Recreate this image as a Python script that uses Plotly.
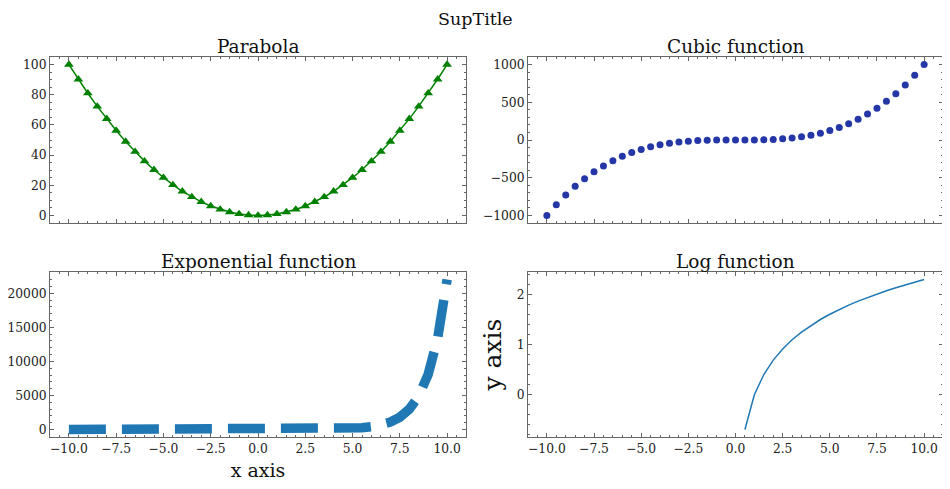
import plotly.graph_objects as go

x_values = [-10, -9.5, -9, -8.5, -8, -7.5, -7, -6.5, -6, -5.5, -5, -4.5, -4, -3.5, -3, -2.5, -2, -1.5, -1, -0.5,
            0, 0.5, 1, 1.5, 2, 2.5, 3, 3.5, 4, 4.5, 5, 5.5, 6, 6.5, 7, 7.5, 8, 8.5, 9, 9.5, 10]

parabola = [100, 90.25, 81, 72.25, 64, 56.25, 49, 42.25, 36, 30.25, 25, 20.25, 16, 12.25, 9, 6.25, 4, 2.25, 1, 0.25,
            0, 0.25, 1, 2.25, 4, 6.25, 9, 12.25, 16, 20.25, 25, 30.25, 36, 42.25, 49, 56.25, 64, 72.25, 81, 90.25, 100]

cubic = [-1000, -857.4, -729, -614.1, -512, -421.9, -343, -274.6, -216, -166.4, -125, -91.1, -64, -42.9, -27, -15.6,
         -8, -3.4, -1, -0.1, 0, 0.1, 1, 3.4, 8, 15.6, 27, 42.9, 64, 91.1, 125, 166.4, 216, 274.6, 343, 421.9, 512,
         614.1, 729, 857.4, 1000]

exponential = [0.00005, 0.00007, 0.00012, 0.0002, 0.00034, 0.00055, 0.00091, 0.0015, 0.0025, 0.0041, 0.0067,
               0.0111, 0.0183, 0.0302, 0.0498, 0.0821, 0.1353, 0.2231, 0.3679, 0.6065, 1, 1.65, 2.72, 4.48, 7.39,
               12.18, 20.09, 33.12, 54.6, 90.02, 148.41, 244.69, 403.43, 665.14, 1096.63, 1808.04, 2980.96,
               4914.77, 8103.08, 13359.73, 22026.47]

logvals = [None] * 21 + [-0.693, 0, 0.405, 0.693, 0.916, 1.099, 1.253, 1.386, 1.504, 1.609, 1.705, 1.792, 1.872,
                         1.946, 2.015, 2.079, 2.140, 2.197, 2.251, 2.303]

titles = ["Parabola", "Cubic function", "Exponential function", "Log function"]
xtick_vals = [-10, -7.5, -5, -2.5, 0, 2.5, 5, 7.5, 10]
xtick_text = ["\u221210.0", "\u22127.5", "\u22125.0", "\u22122.5", "0.0", "2.5", "5.0", "7.5", "10.0"]
ytick_vals = [[0, 20, 40, 60, 80, 100],
              [-1000, -500, 0, 500, 1000],
              [0, 5000, 10000, 15000, 20000],
              [0, 1, 2]]
ytick_text = [["0", "20", "40", "60", "80", "100"],
              ["\u22121000", "\u2212500", "0", "500", "1000"],
              ["0", "5000", "10000", "15000", "20000"],
              ["0", "1", "2"]]

FONT = "DejaVu Serif"
FRAME = "#666666"
BLUE = "#1f77b4"

fig = go.Figure()

fig.add_trace(go.Scatter(x=x_values, y=parabola, mode="lines+markers", xaxis="x", yaxis="y",
                         line=dict(color="green", width=1.5),
                         marker=dict(symbol="triangle-up", size=8.5, color="green"), showlegend=False))
fig.add_trace(go.Scatter(x=x_values, y=cubic, mode="markers", xaxis="x2", yaxis="y2",
                         marker=dict(symbol="circle", size=7, color="#2536a6"), showlegend=False))
fig.add_trace(go.Scatter(x=x_values, y=exponential, mode="lines", xaxis="x3", yaxis="y3",
                         line=dict(color=BLUE, width=9.5, dash="37px,16px"), showlegend=False))
fig.add_trace(go.Scatter(x=x_values, y=logvals, mode="lines", xaxis="x4", yaxis="y4",
                         line=dict(color=BLUE, width=1.5), showlegend=False, connectgaps=False))

# the page body adds an 8px offset; the paper is sized to fill the rest of the 950x489 window
OFF = 8
W, H = 950 - OFF, 489 - OFF


def px_x(p):
    return (p - OFF) / W


def px_y(p):
    return 1 - (p - OFF) / H


xd = [(px_x(50), px_x(466)), (px_x(528), px_x(943))]
yd = [(px_y(223), px_y(57)), (px_y(437), px_y(272))]


def axis_common(minor_dtick):
    return dict(showline=True, linecolor=FRAME, linewidth=1, mirror="allticks",
                ticks="inside", ticklen=4, tickwidth=1, tickcolor=FRAME,
                showgrid=False, zeroline=False, automargin=False,
                tickfont=dict(family=FONT, size=12.3, color="#222222"),
                minor=dict(ticks="inside", ticklen=2, tickwidth=0.8, tickcolor=FRAME, dtick=minor_dtick,
                           tick0=0, showgrid=False))


layout = dict(width=W, height=H, margin=dict(l=0, r=0, t=0, b=0, autoexpand=False),
              plot_bgcolor="white", paper_bgcolor="white",
              font=dict(family=FONT, color="#111111"))

y_ranges = [(-5, 105), (-1100, 1100), (-1101.3, 23127.8), (-0.843, 2.453)]
y_minor = [5, 100, 1000, 0.2]

for i in range(4):
    r, c = divmod(i, 2)
    xa = axis_common(0.5)
    xa.update(domain=list(xd[c]), range=[-11, 11], anchor="y" if i == 0 else f"y{i + 1}",
              tickmode="array", tickvals=xtick_vals, ticktext=xtick_text,
              showticklabels=(r == 1))
    ya = axis_common(y_minor[i])
    ya.update(domain=list(yd[r]), range=list(y_ranges[i]), anchor="x" if i == 0 else f"x{i + 1}",
              tickmode="array", tickvals=ytick_vals[i], ticktext=ytick_text[i])
    layout["xaxis" if i == 0 else f"xaxis{i + 1}"] = xa
    layout["yaxis" if i == 0 else f"yaxis{i + 1}"] = ya

layout["xaxis3"]["title"] = dict(text="x axis", font=dict(family=FONT, size=19, color="#111111"), standoff=8)
layout["yaxis4"]["title"] = dict(text="y axis", font=dict(family=FONT, size=25, color="#111111"), standoff=7)

annotations = [dict(text="SupTitle", x=px_x(475), y=1, xref="paper", yref="paper", showarrow=False,
                    xanchor="center", yanchor="top", borderpad=0,
                    font=dict(family=FONT, size=17.5, color="#111111"))]
title_y = [px_y(46), px_y(46), px_y(261), px_y(261)]
for i, t in enumerate(titles):
    r, c = divmod(i, 2)
    annotations.append(dict(text=t, x=(xd[c][0] + xd[c][1]) / 2, y=title_y[i], xref="paper", yref="paper",
                            showarrow=False, xanchor="center", yanchor="middle",
                            font=dict(family=FONT, size=18.5, color="#111111")))
layout["annotations"] = annotations

fig.update_layout(**layout)
fig.write_html("out.html")
